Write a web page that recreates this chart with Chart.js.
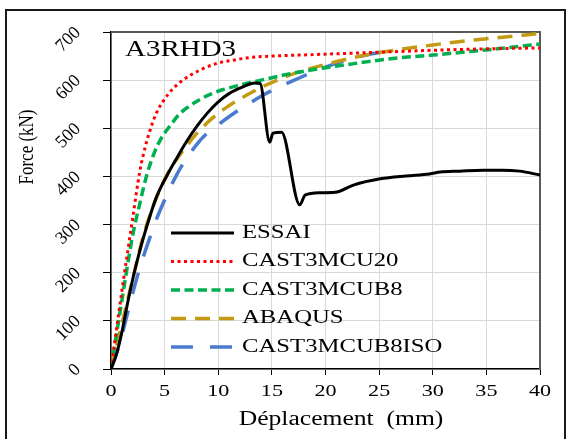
<!DOCTYPE html>
<html>
<head>
<meta charset="utf-8">
<script src="https://cdn.jsdelivr.net/npm/chart.js@4"></script>
<style>
  html, body { margin: 0; padding: 0; background: #fff; }
  #wrap { width: 567px; height: 439px; }
</style>
</head>
<body>
<div id="wrap"><canvas id="chart" width="567" height="439"></canvas></div>
<script>
// displacement (mm) / force (kN)
const essaiX = [0, 0.5, 1, 1.5, 2.05, 2.7, 3.36, 4.2, 5.22, 6, 7, 8, 9, 9.9, 11, 12.3, 13.4, 13.9, 14.8, 15.1, 15.9, 17.6, 18.1, 19.5, 20.9, 22.6, 25.1, 27.5, 29.7, 30.7, 32.5, 34.7, 36.5, 38.1, 40];
const essaiY = [0, 30, 75, 132, 189, 247, 298, 355, 402, 433, 471, 504, 532, 553, 572, 586, 594, 593, 471, 490, 492, 341, 361, 366, 367, 382, 395, 401, 405, 409, 411, 413, 413, 411, 403];

const cu20X = [0, 1, 2, 2.7, 3.2, 3.64, 4.2, 4.85, 5.9, 7.09, 8.5, 9.9, 11.5, 13, 15, 17.5, 20, 25, 30, 35, 40];
const cu20Y = [0, 160, 310, 412, 462, 496, 530, 556, 585, 606, 623, 635, 642, 647, 650, 652, 654, 658, 662, 665, 667];

const cub8X = [0, 1, 2, 2.7, 3.3, 4, 4.6, 5.5, 6.4, 7.3, 8.3, 9.3, 10.4, 11.7, 13, 14.2, 16, 17.6, 20.4, 23.5, 26.7, 30, 32.8, 36, 40];
const cub8Y = [0, 140, 275, 345, 400, 447, 476, 505, 530, 546, 560, 571, 580, 588, 595, 601, 610, 617, 627, 637, 646, 652, 658, 665, 675];

const abaqusX = [0, 1, 2, 3, 3.8, 4.6, 5.4, 6.2, 7.1, 8.1, 9.5, 10.8, 12.5, 14.1, 17, 20.4, 23.5, 26.7, 30, 32.8, 36, 40];
const abaqusY = [0, 92, 185, 275, 330, 375, 410, 438, 465, 492, 522, 544, 567, 586, 613, 635, 651, 663, 673, 681, 688, 697];

const isoX = [0, 0.7, 1.4, 2.05, 2.8, 3.64, 4.4, 5.22, 6, 6.9, 7.8, 8.6, 9.8, 11.2, 12.7, 14.2, 15.8, 17.3, 19.5, 22, 24, 25.7];
const isoY = [0, 45, 103, 160, 218, 274, 320, 362, 398, 433, 461, 482, 504, 527, 549, 569, 587, 602, 623, 642, 653, 660];

const seriesNames = ['ESSAI', 'CAST3MCU20', 'CAST3MCUB8', 'ABAQUS', 'CAST3MCUB8ISO'];
const xTicks = [0, 5, 10, 15, 20, 25, 30, 35, 40];
const yTicks = [0, 100, 200, 300, 400, 500, 600, 700];
const specimen = 'A3RHD3';
const xTitle = 'Déplacement  (mm)';
const yTitle = 'Force (kN)';

function pts(xs, ys) {
	return xs.map((x, i) => ({ x: x, y: ys[i] }));
}

const SERIF = '"Liberation Serif", "Times New Roman", serif';

// text drawn with a horizontal stretch like the original figure
function txt(ctx, s, x, y, size, sx, rot, align) {
	ctx.save();
	ctx.translate(x, y);
	ctx.scale(sx, 1);
	ctx.rotate(rot);
	ctx.font = size + 'px ' + SERIF;
	ctx.fillStyle = '#000';
	ctx.textAlign = align;
	ctx.textBaseline = 'middle';
	ctx.fillText(s, 0, 0);
	ctx.restore();
}

const decor = {
	id: 'decor',
	beforeDraw(chart) {
		const ctx = chart.ctx;
		ctx.save();
		ctx.fillStyle = '#fff';
		ctx.fillRect(0, 0, chart.width, chart.height);
		ctx.strokeStyle = '#1a1a1a';
		ctx.lineWidth = 2;
		ctx.beginPath();
		ctx.moveTo(6, 460);
		ctx.lineTo(6, 10);
		ctx.lineTo(565, 10);
		ctx.lineTo(565, 460);
		ctx.stroke();
		ctx.restore();
	},
	beforeDatasetsDraw(chart) {
		const ctx = chart.ctx, a = chart.chartArea;
		ctx.save();
		ctx.strokeStyle = '#595959';
		ctx.lineWidth = 2;
		ctx.beginPath();
		ctx.moveTo(a.left, a.top);
		ctx.lineTo(a.right, a.top);
		ctx.lineTo(a.right, a.bottom);
		ctx.stroke();
		ctx.restore();
	},
	afterDraw(chart) {
		const ctx = chart.ctx, a = chart.chartArea;
		const sx = chart.scales.x, sy = chart.scales.y;

		xTicks.forEach(v => txt(ctx, String(v), sx.getPixelForValue(v), a.bottom + 23, 17, 1.3, 0, 'center'));
		yTicks.forEach(v => txt(ctx, String(v), a.left - 33, sy.getPixelForValue(v) - 2, 18, 1, -Math.PI / 4, 'right'));

		txt(ctx, xTitle, 341, 420, 20, 1.28, 0, 'center');
		txt(ctx, yTitle, 28, 147, 17, 1.2, -Math.PI / 2, 'center');
		txt(ctx, specimen, a.left + 14, 50, 23, 1.26, 0, 'left');

		// legend inside the plot
		const ds = chart.data.datasets;
		ds.forEach((d, i) => {
			const y = 233 + i * 28.5;
			ctx.save();
			ctx.strokeStyle = d.borderColor;
			ctx.lineWidth = d.borderWidth;
			ctx.setLineDash(d.borderDash || []);
			ctx.beginPath();
			ctx.moveTo(171, y);
			ctx.lineTo(234, y);
			ctx.stroke();
			ctx.restore();
			txt(ctx, d.label, 242, y, 19, 1.3, 0, 'left');
		});
	}
};

new Chart(document.getElementById('chart'), {
	type: 'line',
	data: {
		datasets: [
			{ label: seriesNames[0], data: pts(essaiX, essaiY), borderColor: '#000000', borderWidth: 3, borderDash: [] },
			{ label: seriesNames[1], data: pts(cu20X, cu20Y), borderColor: '#ff0000', borderWidth: 3, borderDash: [3, 3.5] },
			{ label: seriesNames[2], data: pts(cub8X, cub8Y), borderColor: '#00b050', borderWidth: 3.5, borderDash: [9, 4.5] },
			{ label: seriesNames[3], data: pts(abaqusX, abaqusY), borderColor: '#c49a12', borderWidth: 3.5, borderDash: [15, 9] },
			{ label: seriesNames[4], data: pts(isoX, isoY), borderColor: '#4a7bd0', borderWidth: 3.5, borderDash: [22, 17] }
		]
	},
	options: {
		responsive: false,
		animation: false,
		devicePixelRatio: 1,
		layout: { padding: { left: 0, top: 32, right: 27, bottom: 0 } },
		elements: {
			point: { radius: 0 },
			line: { cubicInterpolationMode: 'monotone', fill: false }
		},
		plugins: { legend: { display: false }, tooltip: { enabled: false } },
		scales: {
			x: {
				type: 'linear', min: 0, max: 40,
				ticks: { display: false, stepSize: 5 },
				grid: { color: '#d9d9d9', lineWidth: 1, tickColor: '#000', tickLength: 6 },
				border: { color: '#000', width: 1.5 },
				afterFit: s => { s.height = 70; }
			},
			y: {
				type: 'linear', min: 0, max: 700,
				ticks: { display: false, stepSize: 100 },
				grid: { color: '#d9d9d9', lineWidth: 1, tickColor: '#000', tickLength: 8 },
				border: { color: '#000', width: 1.5 },
				afterFit: s => { s.width = 111; }
			}
		}
	},
	plugins: [decor]
});
</script>
</body>
</html>
